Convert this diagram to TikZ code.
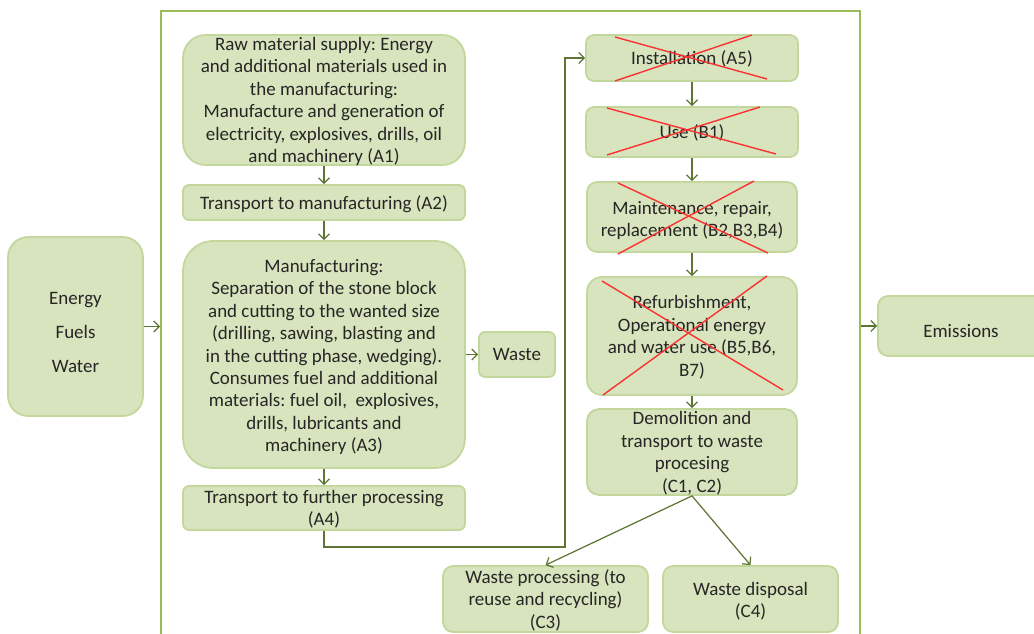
\documentclass[tikz,border=0pt]{standalone}
\usepackage{fontspec}
\setmainfont{Carlito}
\usetikzlibrary{arrows.meta}
\definecolor{boxfill}{RGB}{215,228,189}
\definecolor{boxline}{RGB}{195,214,155}
\definecolor{framegreen}{RGB}{155,187,89}
\definecolor{linkolive}{RGB}{94,117,52}
\definecolor{crossred}{RGB}{250,50,50}
\newcommand{\lift}[1]{\rule{0pt}{#1}}
\frenchspacing
\begin{document}
\begin{tikzpicture}[x=0.02cm,y=-0.02cm,
 box/.style={draw=boxline,line width=1pt,fill=boxfill,align=center,inner sep=2pt,text=black!85,font=\fontsize{10.8}{12.8}\selectfont},
 tight/.style={inner ysep=1pt,text depth=0pt},
 link/.style={draw=linkolive,line width=0.7pt,-{Straight Barb[length=1.1mm,width=2.2mm]}},
 cross/.style={draw=crossred,line width=0.8pt}]
\useasboundingbox (0,0) rectangle (1034,634);
\clip (0,0) rectangle (1034,634);
\draw[framegreen,line width=1.3pt] (161,660) -- (161,11) -- (860,11) -- (860,660);
\node[box,minimum width=2.7cm,minimum height=3.58cm,rounded corners=0.4cm] (en) at (75.5,326.5) {\lift{13.7pt}Energy\\[2.3mm]Fuels\\[2.3mm]Water};
\node[box,tight,text depth=-2.5pt,minimum width=5.64cm,minimum height=2.6cm,rounded corners=0.45cm] (a1) at (324,100) {Raw material supply: Energy\\and additional materials used in\\the manufacturing:\\Manufacture and generation of\\electricity, explosives, drills, oil\\and machinery (A1)};
\node[box,minimum width=5.64cm,minimum height=0.7cm,rounded corners=0.12cm] (a2) at (324,202.5) {\lift{10.2pt}Transport to manufacturing (A2)};
\node[box,minimum width=5.64cm,minimum height=4.54cm,rounded corners=0.6cm] (a3) at (324,354.5) {\lift{10.3pt}Manufacturing:\\Separation of the stone block\\and cutting to the wanted size\\(drilling, sawing, blasting and\\in the cutting phase, wedging).\\Consumes fuel and additional\\materials: fuel oil,\ \ explosives,\\drills, lubricants and\\machinery (A3)};
\node[box,tight,inner ysep=0pt,minimum width=5.64cm,minimum height=0.88cm,rounded corners=0.12cm] (a4) at (324,508) {Transport to further processing\\(A4)};
\node[box,minimum width=1.52cm,minimum height=0.9cm,rounded corners=0.12cm] (waste) at (517,354.5) {Waste};
\node[box,minimum width=4.24cm,minimum height=0.92cm,rounded corners=0.16cm] (a5) at (692,58) {\lift{9.1pt}Installation (A5)};
\node[box,minimum width=4.24cm,minimum height=1.0cm,rounded corners=0.16cm] (b1) at (692,132) {\lift{9.1pt}Use (B1)};
\node[box,minimum width=4.2cm,minimum height=1.4cm,rounded corners=0.2cm] (b2) at (692,217) {\lift{11.4pt}Maintenance, repair,\\replacement (B2,B3,B4)};
\node[box,minimum width=4.2cm,minimum height=2.36cm,rounded corners=0.3cm] (b5) at (692,336) {\lift{9.1pt}Refurbishment,\\Operational energy\\and water use (B5,B6,\\B7)};
\node[box,tight,minimum width=4.2cm,minimum height=1.72cm,rounded corners=0.24cm] (c1) at (692,452) {Demolition and\\transport to waste\\procesing\\(C1, C2)};
\node[box,tight,minimum width=4.1cm,minimum height=1.32cm,rounded corners=0.2cm] (c3) at (545.5,599) {Waste processing (to\\reuse and recycling)\\(C3)};
\node[box,minimum width=3.5cm,minimum height=1.32cm,rounded corners=0.2cm] (c4) at (750.5,599) {\lift{10.3pt}Waste disposal\\(C4)};
\node[box,minimum width=3.32cm,minimum height=1.2cm,rounded corners=0.2cm] (em) at (961,326) {\lift{13.6pt}Emissions};
\coordinate (fl) at (160,326.5);
\coordinate (fr) at (861,326);
\coordinate (turn) at (565,547);
\draw[link] (en.east) -- (fl);
\draw[link] (fr) -- (em.west);
\draw[link] (a1.south) -- (a2.north);
\draw[link] (a2.south) -- (a3.north);
\draw[link] (a3.south) -- (a4.north);
\draw[link] (a3.east) -- (waste.west);
\draw[link] (a4.south) |- (turn) |- (a5.west);
\draw[link] (a5.south) -- (b1.north);
\draw[link] (b1.south) -- (b2.north);
\draw[link] (b2.south) -- (b5.north);
\draw[link] (b5.south) -- (c1.north);
\draw[link] (c1.south) -- (c3.north);
\draw[link] (c1.south) -- (c4.north);
\draw[cross] (615,37) -- (767,79);
\draw[cross] (615,81) -- (752,35);
\draw[cross] (607,108) -- (776,154);
\draw[cross] (607,155) -- (760,107);
\draw[cross] (618,183) -- (768,253);
\draw[cross] (618,254) -- (754,181);
\draw[cross] (602,281) -- (783,390);
\draw[cross] (603,395) -- (767,276);
\end{tikzpicture}
\end{document}
